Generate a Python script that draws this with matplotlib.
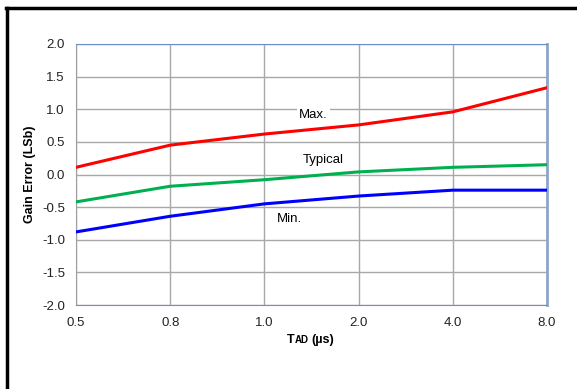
import matplotlib.pyplot as plt
from matplotlib.lines import Line2D

plt.rcParams['font.family'] = ['Liberation Sans', 'DejaVu Sans']

tad_labels = ["0.5", "0.8", "1.0", "2.0", "4.0", "8.0"]
gain_max = [0.11, 0.45, 0.62, 0.76, 0.96, 1.33]
gain_typ = [-0.42, -0.18, -0.08, 0.04, 0.11, 0.15]
gain_min = [-0.88, -0.64, -0.45, -0.33, -0.24, -0.24]

W, H = 577, 389
fig = plt.figure(figsize=(W / 100, H / 100), dpi=100)
ax = fig.add_axes([76 / W, 1 - 305 / H, (547 - 76) / W, (305 - 44) / H])

xs = range(len(tad_labels))
ax.plot(xs, gain_max, color="#FF0000", lw=2.2, zorder=3)
ax.plot(xs, gain_typ, color="#00B050", lw=2.2, zorder=3)
ax.plot(xs, gain_min, color="#0000FF", lw=2.2, zorder=3)

ax.set_xlim(0, len(tad_labels) - 1)
ax.set_ylim(-2.0, 2.0)
ax.set_xticks(list(xs))
ax.set_xticklabels(tad_labels)
ax.set_yticks([-2.0, -1.5, -1.0, -0.5, 0.0, 0.5, 1.0, 1.5, 2.0])
ax.set_yticklabels([f"{v:.1f}" for v in ax.get_yticks()])
ax.tick_params(labelsize=9.5, length=0, colors="#222222")
ax.tick_params(axis="x", pad=9)
ax.tick_params(axis="y", pad=8)
ax.grid(True, color="#A8A8A8", lw=1)
ax.set_axisbelow(True)

ax.spines["left"].set_color("#A0A0A0")
ax.spines["top"].set_color("#6F8FC8")
ax.spines["bottom"].set_color("#6F8FC8")
ax.spines["right"].set_color("#8EA6C8")
ax.spines["right"].set_linewidth(2)

box = dict(facecolor="white", edgecolor="none", pad=1.5)
ax.text(2.52, 0.91, "Max.", fontsize=9.5, ha="center", va="center", bbox=box)
ax.text(2.62, 0.22, "Typical", fontsize=9.5, ha="center", va="center", bbox=box)
ax.text(2.27, -0.68, "Min.", fontsize=9.5, ha="center", va="center", bbox=box)

ax.set_ylabel("Gain Error (LSb)", fontsize=9, fontweight="bold", labelpad=4)

yb = 1 - 343 / H
fig.text(287 / W, yb, "T", fontsize=9, fontweight="bold", va="baseline")
fig.text(294.5 / W, yb, "AD", fontsize=7, fontweight="bold", va="baseline")
fig.text(311 / W, yb, "(µs)", fontsize=9, fontweight="bold", va="baseline")

fig.lines.append(Line2D([7 / W, 7 / W], [0, 1 - 8 / H], transform=fig.transFigure,
                        color="black", lw=2.5))
fig.lines.append(Line2D([6 / W, 1], [1 - 8 / H, 1 - 8 / H], transform=fig.transFigure,
                        color="black", lw=2.5))

fig.savefig("out.png", dpi=100)
